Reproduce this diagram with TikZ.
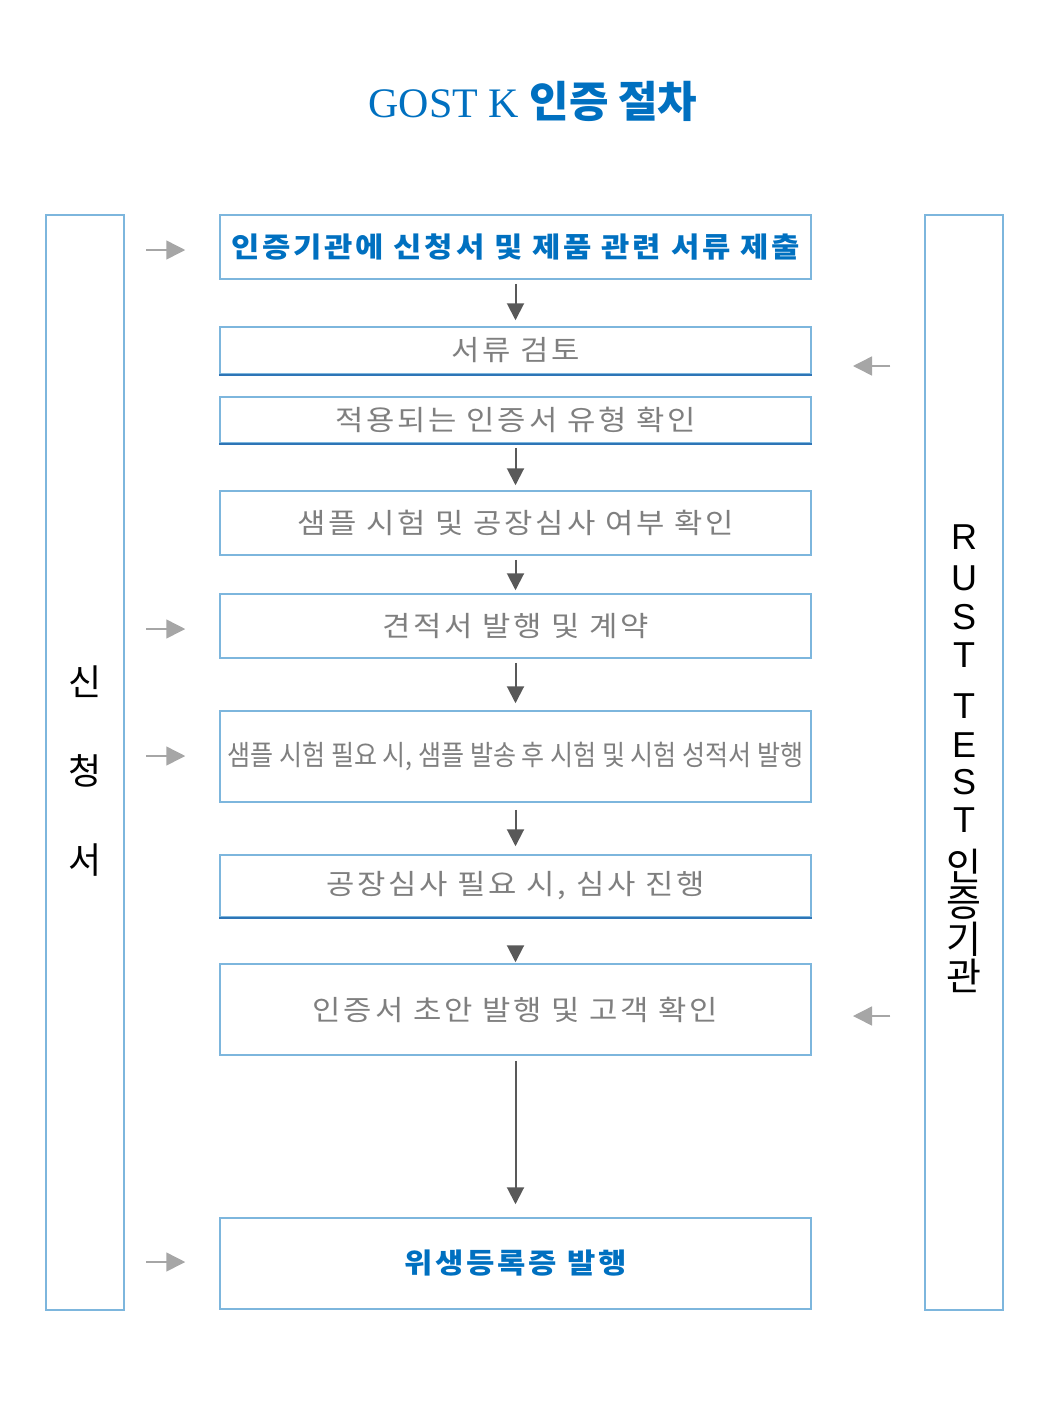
\documentclass[tikz,border=0pt]{standalone}
\usepackage{fontspec}
\usepackage{graphicx}
\usepackage{xcolor}
\usepackage{tikz}
\usetikzlibrary{arrows.meta}
\setmainfont{Liberation Serif}
\newfontfamily\krfont{Noto Sans CJK KR}
\newfontfamily\krwide{Noto Sans CJK KR}[FakeStretch=1.1, LetterSpace=10]
\newfontfamily\latsans{Liberation Sans}
\definecolor{titleblue}{HTML}{0070C0}
\definecolor{boxline}{HTML}{7DB6DD}
\definecolor{linedark}{HTML}{2E75B6}
\definecolor{txtgray}{HTML}{7F7F7F}
\definecolor{flowgray}{HTML}{595959}
\definecolor{feedgray}{HTML}{A6A6A6}
\tikzset{
    boxnode/.style = {align=center, inner sep=0pt, text centered},
    step_box/.style = {boxnode, rectangle, draw=boxline, line width=1.5pt, minimum width=591pt, text=txtgray, font=\krwide\fontsize{28}{32}\selectfont},
    key_box/.style = {step_box, text=titleblue, font=\krwide\bfseries\fontsize{28}{32}\selectfont},
    side_box/.style = {boxnode, rectangle, draw=boxline, line width=1.5pt, minimum width=78pt, minimum height=1095pt},
    side_lbl/.style = {boxnode, text=black, font=\krfont\fontsize{36}{89}\selectfont},
    lat_lbl/.style = {boxnode, text=black, font=\latsans\fontsize{36}{38}\selectfont},
    kor_lbl/.style = {boxnode, text=black, font=\krfont\fontsize{38}{38}\selectfont},
    title_lbl/.style = {boxnode, text=titleblue, font=\fontsize{42}{44}\selectfont},
    bottom_edge/.style = {draw=linedark, line width=1.5pt},
    flow/.style = {draw=flowgray, line width=2pt, -{Triangle[length=17pt, width=17pt]}},
    feed/.style = {draw=feedgray, line width=1.5pt, -{Triangle[length=19pt, width=19pt]}}
}

\begin{document}
\begin{tikzpicture}[x=1pt, y=-1pt]
    \useasboundingbox (0,0) rectangle (1055,1425);

    \node[title_lbl] (title) at (533,101) {GOST K {\krfont\bfseries\fontsize{43}{44}\selectfont 인증 절차}};

    \node[side_box] (lbox) at (85,762.5) {};
    \node[side_box] (rbox) at (964,762.5) {};
    \node[side_lbl] (llbl) at (85,771) {신\\청\\서};
    \foreach \ch/\yy [count=\i] in {R/537, U/578, S/617, T/655, T/706, E/745, S/782, T/820}
        \node[lat_lbl] (rlat\i) at (964,\yy) {\ch};
    \foreach \ch/\yy [count=\i] in {인/866, 증/903, 기/939, 관/976}
        \node[kor_lbl] (rkor\i) at (964,\yy) {\ch};

    \node[key_box, minimum height=64pt] (b1) at (515.5,247) {인증기관에 신청서 및 제품 관련 서류 제출};
    \node[step_box, minimum height=47pt] (b2) at (515.5,350.5) {서류 검토};
    \node[step_box, minimum height=46pt] (b3) at (515.5,420) {적용되는 인증서 유형 확인};
    \node[step_box, minimum height=64pt] (b4) at (515.5,523) {샘플 시험 및 공장심사 여부 확인};
    \node[step_box, minimum height=64pt] (b5) at (515.5,626) {견적서 발행 및 계약};
    \node[step_box, minimum height=91pt] (b6) at (515.5,756.5) {\scalebox{0.894}[1]{\krfont 샘플 시험 필요 시, 샘플 발송 후 시험 및 시험 성적서 발행}};
    \node[step_box, minimum height=62pt] (b7) at (515.5,886) {공장심사 필요 시, 심사 진행};
    \node[step_box, minimum height=91pt] (b8) at (515.5,1009.5) {인증서 초안 발행 및 고객 확인};
    \node[key_box, minimum height=91pt] (b9) at (515.5,1263.5) {위생등록증 발행};

    \draw[bottom_edge] (b2.south west) -- (b2.south east);
    \draw[bottom_edge] (b3.south west) -- (b3.south east);
    \draw[bottom_edge] (b7.south west) -- (b7.south east);

    \draw[flow, shorten <=4pt, shorten >=6pt] (b1.south) -- (b2.north);
    \draw[flow, shorten <=4pt, shorten >=5pt] (b3.south) -- (b4.north);
    \draw[flow, shorten <=4pt, shorten >=3pt] (b4.south) -- (b5.north);
    \draw[flow, shorten <=4pt, shorten >=7pt] (b5.south) -- (b6.north);
    \draw[flow, shorten <=7pt, shorten >=8pt] (b6.south) -- (b7.north);
    \draw[flow, shorten <=30pt, shorten >=1pt] (b7.south) -- (b8.north);
    \draw[flow, shorten <=5pt, shorten >=13pt] (b8.south) -- (b9.north);

    \coordinate (f1) at (146,250);
    \coordinate (f2) at (146,629);
    \coordinate (f3) at (146,756);
    \coordinate (f4) at (146,1262);
    \draw[feed, shorten >=34pt] (f1) -- (f1 -| b1.west);
    \draw[feed, shorten >=34pt] (f2) -- (f2 -| b5.west);
    \draw[feed, shorten >=34pt] (f3) -- (f3 -| b6.west);
    \draw[feed, shorten >=34pt] (f4) -- (f4 -| b9.west);

    \coordinate (g1) at (853,366);
    \coordinate (g2) at (853,1016);
    \draw[feed, shorten <=34pt] (g1 -| rbox.west) -- (g1);
    \draw[feed, shorten <=34pt] (g2 -| rbox.west) -- (g2);
\end{tikzpicture}
\end{document}
